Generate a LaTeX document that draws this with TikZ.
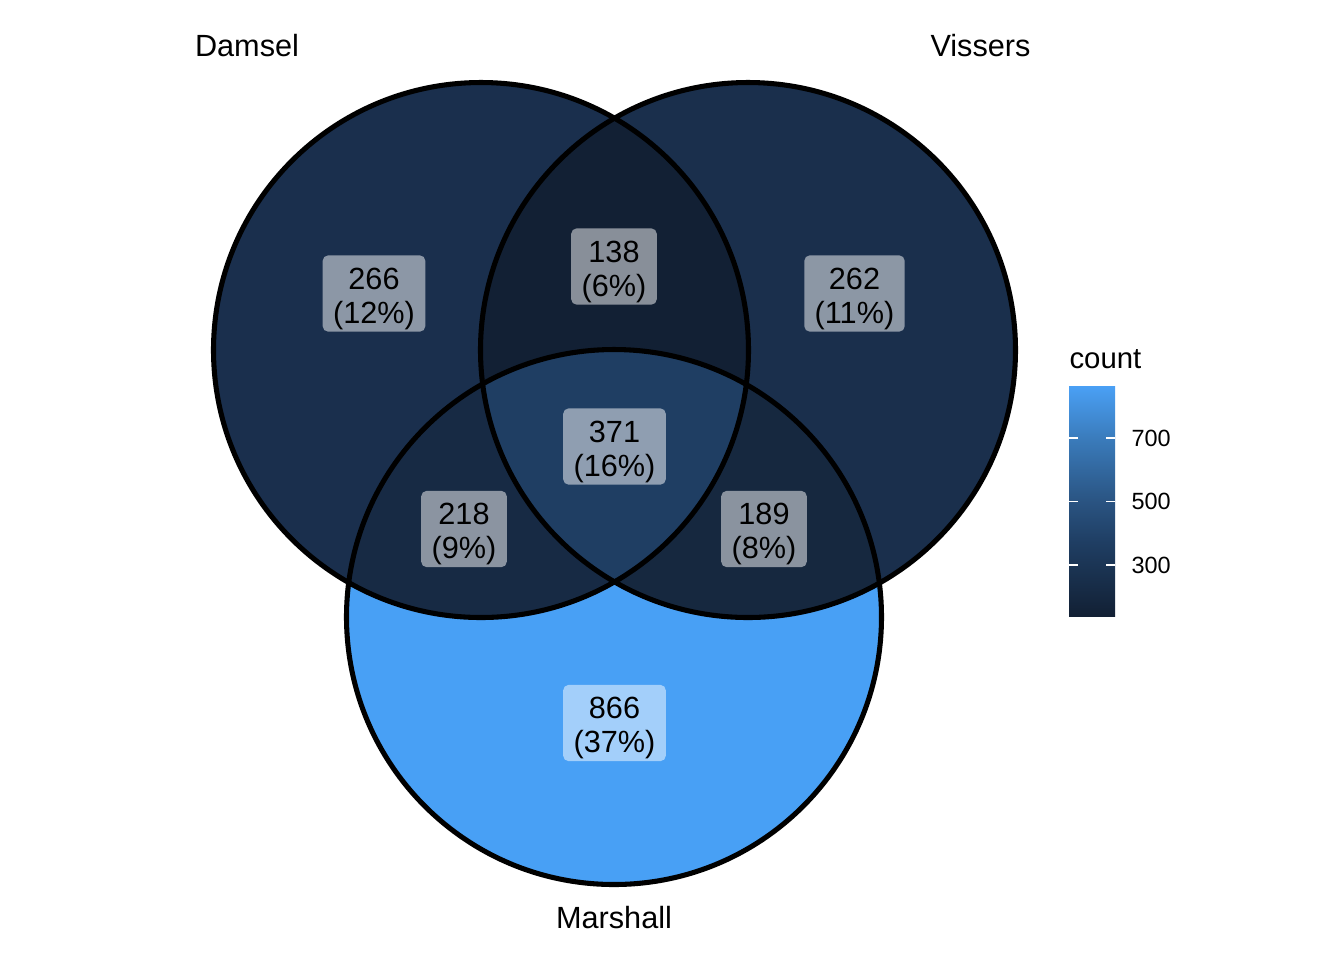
\documentclass[tikz,border=0pt]{standalone}
\usepackage{fontspec}
\setmainfont{Liberation Sans}
\definecolor{cD}{HTML}{1A2F4D}
\definecolor{cV}{HTML}{1A2F4C}
\definecolor{cM}{HTML}{48A0F5}
\definecolor{cDV}{HTML}{122034}
\definecolor{cDM}{HTML}{172A44}
\definecolor{cVM}{HTML}{16283F}
\definecolor{cDVM}{HTML}{1F3E63}
\definecolor{cb0}{HTML}{122034}
\definecolor{cb1}{HTML}{1F3E63}
\definecolor{cb2}{HTML}{2A5482}
\definecolor{cb3}{HTML}{3A7BBB}
\definecolor{cb4}{HTML}{4AA0F5}
\pgfdeclareverticalshading{cbar}{100bp}{color(0bp)=(cb0); color(25bp)=(cb0); color(41bp)=(cb1); color(50bp)=(cb2); color(63.5bp)=(cb3); color(75bp)=(cb4); color(100bp)=(cb4)}
\newcommand{\labtxt}[2]{\rule{0pt}{12pt}#1\\#2}
\tikzset{
  lab/.style={fill=white, fill opacity=0.5, text opacity=1, rounded corners=2pt,
    align=center, inner xsep=3.9pt, inner ysep=0.75pt, font=\fontsize{11.5}{12.7}\selectfont},
  setname/.style={anchor=base, font=\fontsize{11.5}{13}\selectfont},
  ring/.style={draw=black, line width=1.9pt},
  tickw/.style={draw=white, line width=0.4pt},
  ticklab/.style={anchor=west, font=\fontsize{8.8}{10}\selectfont, inner sep=0pt}
}
\begin{document}
\begin{tikzpicture}[x=0.375pt,y=-0.375pt]
\useasboundingbox[fill=white] (0,0) rectangle (1344,960);
\def\R{100.31pt}
\coordinate (cd) at (481,350);
\coordinate (cv) at (748,350);
\coordinate (cm) at (614,617);
% base fills
\fill[cD] (cd) circle[radius=\R];
\fill[cV] (cv) circle[radius=\R];
\fill[cM] (cm) circle[radius=\R];
% pairwise
\begin{scope}
  \clip (cd) circle[radius=\R];
  \fill[cDV] (cv) circle[radius=\R];
  \fill[cDM] (cm) circle[radius=\R];
\end{scope}
\begin{scope}
  \clip (cv) circle[radius=\R];
  \fill[cVM] (cm) circle[radius=\R];
\end{scope}
\begin{scope}
  \clip (cd) circle[radius=\R];
  \clip (cv) circle[radius=\R];
  \fill[cDVM] (cm) circle[radius=\R];
\end{scope}
% outlines
\draw[ring] (cd) circle[radius=\R];
\draw[ring] (cv) circle[radius=\R];
\draw[ring] (cm) circle[radius=\R];
% region labels
\node[lab] (l266) at (374,293.5) {\labtxt{266}{(12\%)}};
\node[lab] (l138) at (614,266.5) {\labtxt{138}{(6\%)}};
\node[lab] (l262) at (854.5,293.5) {\labtxt{262}{(11\%)}};
\node[lab] (l371) at (614.5,446.5) {\labtxt{371}{(16\%)}};
\node[lab] (l218) at (464,529) {\labtxt{218}{(9\%)}};
\node[lab] (l189) at (764,529) {\labtxt{189}{(8\%)}};
\node[lab] (l866) at (614.5,723) {\labtxt{866}{(37\%)}};
% set names
\node[setname] (nD) at (247,56) {Damsel};
\node[setname] (nV) at (980.5,56) {Vissers};
\node[setname] (nM) at (614,928) {Marshall};
% legend
\node[anchor=base west, inner sep=0pt, font=\fontsize{11}{13}\selectfont] (lg) at (1069,368) {count};
\shade[shading=cbar] (1069,386) rectangle (1115,616);
\foreach \v/\yy in {700/438, 500/501.5, 300/565} {
  \draw[tickw] (1069,\yy) -- (1078,\yy);
  \draw[tickw] (1106,\yy) -- (1115,\yy);
  \node[ticklab] at (1131,\yy) {\v};
}
\end{tikzpicture}
\end{document}
